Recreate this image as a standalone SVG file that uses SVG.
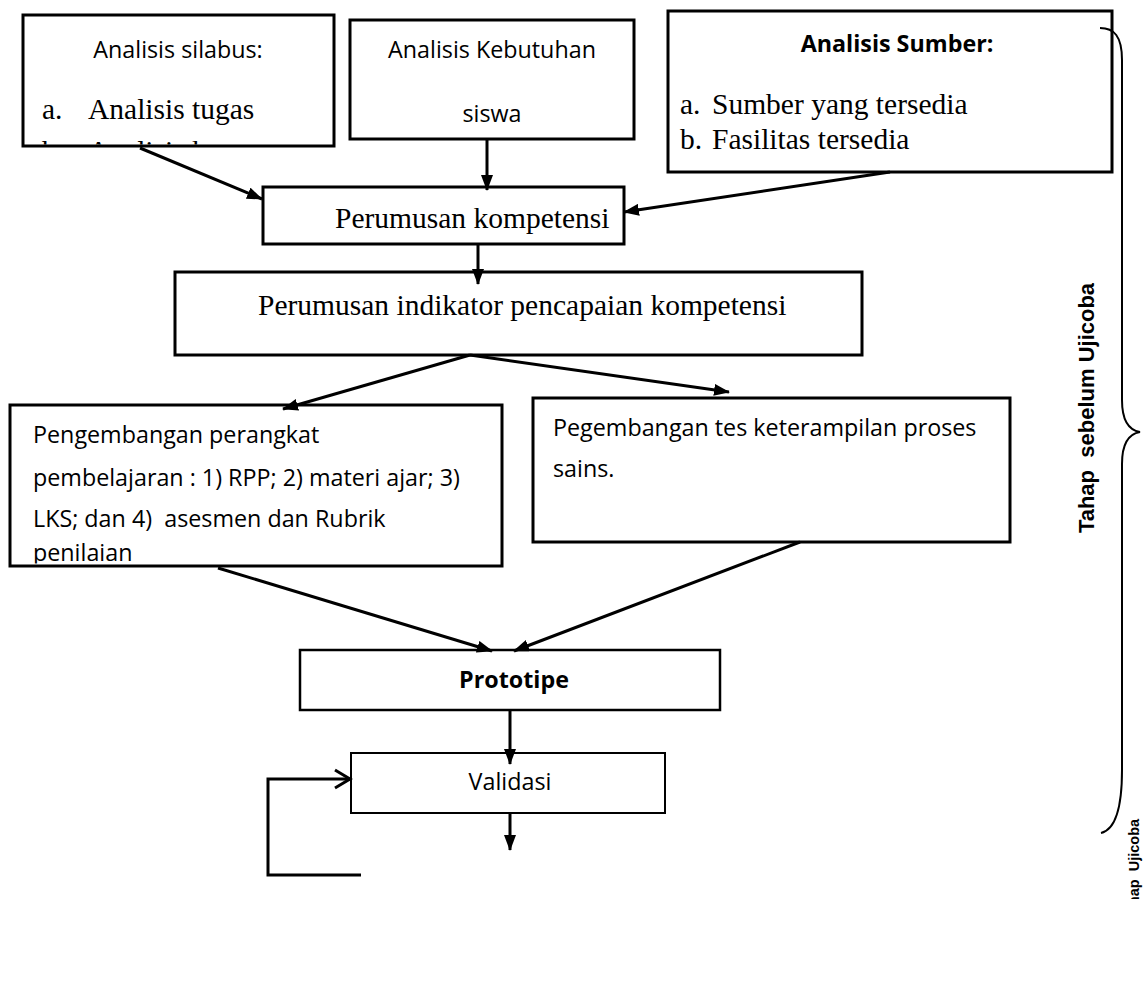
<svg xmlns="http://www.w3.org/2000/svg" width="1147" height="991" viewBox="0 0 1147 991">
<style>
.box{fill:#fff;stroke:#000;stroke-width:3}
.thin{stroke-width:2.5}
.sans{font-family:"Open Sans","Noto Sans",sans-serif;font-size:23.3px;fill:#000}
.serif{font-family:"Liberation Serif","Times New Roman",serif;font-size:29.5px;fill:#000}
.bold{font-weight:bold}
.conn{stroke:#000;stroke-width:3;fill:none}
.side{font-family:"Liberation Sans",Arial,sans-serif;font-weight:bold;fill:#000}
</style>
<defs>
<marker id="ah" markerUnits="userSpaceOnUse" markerWidth="16" markerHeight="12" refX="15" refY="6" orient="auto"><path d="M0,0 L16,6 L0,12 z" fill="#000"/></marker>
<clipPath id="c1"><rect x="24.5" y="16.5" width="308" height="128"/></clipPath>
<clipPath id="cL"><rect x="11.5" y="406.5" width="489" height="157"/></clipPath>
<clipPath id="cB"><rect x="1100" y="780" width="47" height="119"/></clipPath>
</defs>
<rect width="1147" height="991" fill="#fff"/>

<g id="analisis-silabus">
<rect class="box" x="23" y="15" width="311" height="131"/>
<text class="sans" x="178" y="58" text-anchor="middle">Analisis silabus:</text>
<text class="serif" x="42" y="119">a.</text>
<text class="serif" x="88" y="119">Analisis tugas</text>
<g clip-path="url(#c1)">
<text class="serif" x="42" y="161">b.</text>
<text class="serif" x="88" y="161">Analisis konsep</text>
</g>
</g>

<g id="analisis-kebutuhan">
<rect class="box" x="350" y="20" width="284" height="119"/>
<text class="sans" x="492" y="58" text-anchor="middle">Analisis Kebutuhan</text>
<text class="sans" x="492" y="122" text-anchor="middle">siswa</text>
</g>

<g id="analisis-sumber">
<rect class="box" x="668" y="11" width="444" height="161"/>
<text class="sans bold" x="897" y="52" text-anchor="middle">Analisis Sumber:</text>
<text class="serif" x="680" y="114">a.</text>
<text class="serif" x="712" y="114">Sumber yang tersedia</text>
<text class="serif" x="680" y="149">b.</text>
<text class="serif" x="712" y="149">Fasilitas tersedia</text>
</g>

<g id="perumusan-kompetensi">
<rect class="box" x="263" y="187" width="361" height="57"/>
<text class="serif" x="335" y="228">Perumusan kompetensi</text>
</g>

<g id="perumusan-indikator">
<rect class="box" x="175" y="272" width="687" height="83"/>
<text class="serif" x="258" y="315">Perumusan indikator pencapaian kompetensi</text>
</g>

<g id="pengembangan-perangkat">
<rect class="box" x="10" y="405" width="492" height="161"/>
<g clip-path="url(#cL)">
<text class="sans" x="33" y="443">Pengembangan perangkat</text>
<text class="sans" x="33" y="486">pembelajaran : 1) RPP; 2) materi ajar; 3)</text>
<text class="sans" x="33" y="527" xml:space="preserve">LKS; dan 4)  asesmen dan Rubrik</text>
<text class="sans" x="33" y="561">penilaian</text>
</g>
</g>

<g id="pengembangan-tes">
<rect class="box" x="533" y="398" width="477" height="144"/>
<text class="sans" x="553" y="436">Pegembangan tes keterampilan proses</text>
<text class="sans" x="553" y="477">sains.</text>
</g>

<g id="prototipe">
<rect class="box thin" x="300" y="650" width="420" height="60"/>
<text class="sans bold" x="514" y="688" text-anchor="middle">Prototipe</text>
</g>

<g id="validasi">
<rect class="box" style="stroke-width:2" x="351" y="753" width="314" height="60"/>
<text class="sans" x="510" y="790" text-anchor="middle">Validasi</text>
</g>

<g id="connectors">
<path class="conn" d="M140,148 L262,199" marker-end="url(#ah)"/>
<path class="conn" d="M487,139 L487,190" marker-end="url(#ah)"/>
<path class="conn" d="M890,172 L624,212" marker-end="url(#ah)"/>
<path class="conn" d="M478,244 L478,284" marker-end="url(#ah)"/>
<path class="conn" d="M470,355 L283,409" marker-end="url(#ah)"/>
<path class="conn" d="M470,355 L729,392" marker-end="url(#ah)"/>
<path class="conn" d="M218,568 L492,651" marker-end="url(#ah)"/>
<path class="conn" d="M800,542 L514,651" marker-end="url(#ah)"/>
<path class="conn" d="M510,710 L510,764" marker-end="url(#ah)"/>
<path class="conn" d="M510,813 L510,850" marker-end="url(#ah)"/>
<path class="conn" d="M361,875 L268,875 L268,779 L350,779"/>
<path class="conn" d="M335,770 L350,779 L335,788"/>
<path d="M1100,28 C1114,28 1122,36 1122,60 L1122,400 C1122,420 1128,430 1140,432 C1128,434 1122,444 1122,464 L1122,770 C1122,810 1114,830 1101,833" fill="none" stroke="#000" stroke-width="2"/>
</g>

<g id="label-sebelum">
<text class="side" font-size="22" transform="translate(1094,408) rotate(-90)" text-anchor="middle" xml:space="preserve">Tahap  sebelum Ujicoba</text>
</g>

<g id="label-ujicoba" clip-path="url(#cB)">
<text class="side" font-size="14.5" transform="translate(1139,921) rotate(-90)" xml:space="preserve">Tahap  Ujicoba</text>
</g>
</svg>
